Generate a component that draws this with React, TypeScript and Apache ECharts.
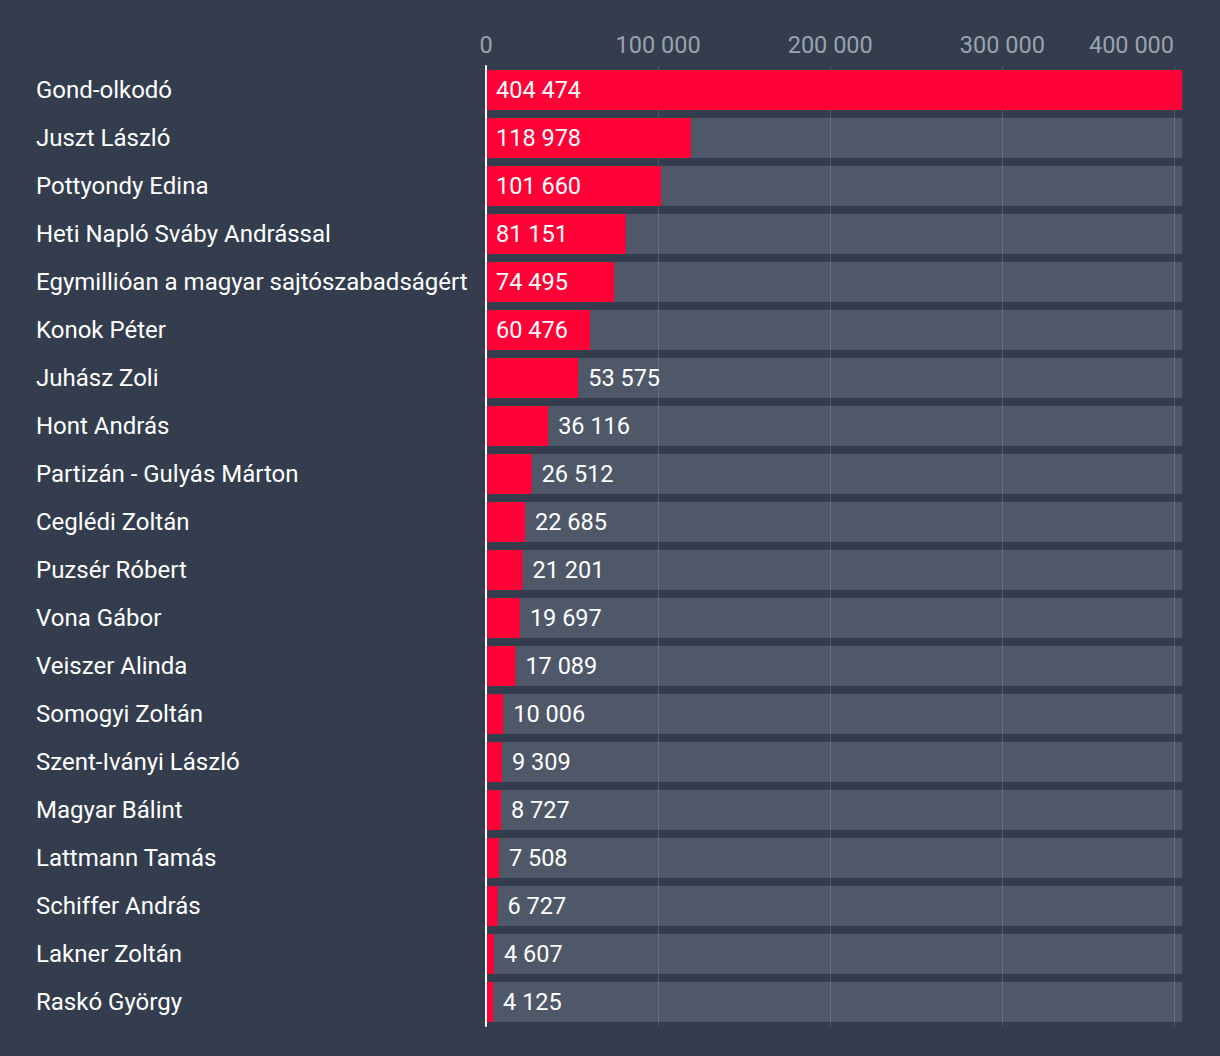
import React, { useEffect, useRef } from "react";
import * as echarts from "echarts";

const categories = [
  "Gond-olkodó",
  "Juszt László",
  "Pottyondy Edina",
  "Heti Napló Sváby Andrással",
  "Egymillióan a magyar sajtószabadságért",
  "Konok Péter",
  "Juhász Zoli",
  "Hont András",
  "Partizán - Gulyás Márton",
  "Ceglédi Zoltán",
  "Puzsér Róbert",
  "Vona Gábor",
  "Veiszer Alinda",
  "Somogyi Zoltán",
  "Szent-Iványi László",
  "Magyar Bálint",
  "Lattmann Tamás",
  "Schiffer András",
  "Lakner Zoltán",
  "Raskó György",
];

const values = [
  404474, 118978, 101660, 81151, 74495, 60476, 53575, 36116, 26512, 22685,
  21201, 19697, 17089, 10006, 9309, 8727, 7508, 6727, 4607, 4125,
];

const tickValues = [0, 100000, 200000, 300000, 400000];

const fmt = (v: number) => String(v).replace(/\B(?=(\d{3})+(?!\d))/g, " ");

export default function App() {
  const ref = useRef<HTMLDivElement>(null);
  useEffect(() => {
    if (!ref.current) return;
    const chart = echarts.init(ref.current, null, { renderer: "svg" });
    const maxV = Math.max(...values);
    const lastTick = tickValues[tickValues.length - 1];
    chart.setOption({
      animation: false,
      backgroundColor: "#333d4e",
      textStyle: { fontFamily: "Roboto" },
      grid: { left: 486, right: 36, top: 66, bottom: 30, containLabel: false },
      xAxis: {
        type: "value",
        position: "top",
        min: 0,
        max: maxV,
        interval: 100000,
        z: 3,
        axisLine: { show: false },
        axisTick: { show: false },
        splitLine: {
          show: true,
          showMaxLine: false,
          showMinLine: false,
          lineStyle: { color: "rgba(255,255,255,0.14)", width: 1 },
        },
        axisLabel: {
          showMaxLabel: false,
          margin: 9,
          color: "#9ca2ab",
          fontSize: 23.5,
          fontFamily: "Roboto",
          formatter: (v: number) => {
            if (!tickValues.includes(v)) return "";
            if (v === lastTick) return "{t|" + fmt(v) + "}{s|}";
            return "{t|" + fmt(v) + "}";
          },
          rich: {
            t: { color: "#9ca2ab", fontSize: 23.5, fontFamily: "Roboto" },
            s: { width: 86 },
          },
        },
      },
      yAxis: {
        type: "category",
        data: categories,
        inverse: true,
        z: 6,
        axisLine: { show: true, lineStyle: { color: "#ffffff", width: 2 } },
        axisTick: { show: false },
        splitLine: { show: false },
        axisLabel: {
          align: "left",
          margin: 450,
          color: "#ffffff",
          fontSize: 24,
          fontFamily: "Roboto",
        },
      },
      series: [
        {
          type: "bar",
          name: "bg",
          silent: true,
          z: 2,
          barWidth: 40,
          barGap: "-100%",
          itemStyle: { color: "#4f5869" },
          data: values.map(() => maxV),
        },
        {
          type: "bar",
          name: "values",
          z: 5,
          barWidth: 40,
          barGap: "-100%",
          itemStyle: { color: "#ff0037" },
          label: {
            show: true,
            color: "#ffffff",
            fontSize: 23.5,
            fontFamily: "Roboto",
            distance: 10,
            formatter: (p: any) => fmt(p.value),
          },
          data: values.map((v) => ({
            value: v,
            label: { position: v >= 60000 ? "insideLeft" : "right" },
          })),
        },
      ],
    });
    return () => chart.dispose();
  }, []);
  return (
    <div
      ref={ref}
      style={{ position: "fixed", left: 0, top: 0, width: 1220, height: 1056 }}
    />
  );
}
